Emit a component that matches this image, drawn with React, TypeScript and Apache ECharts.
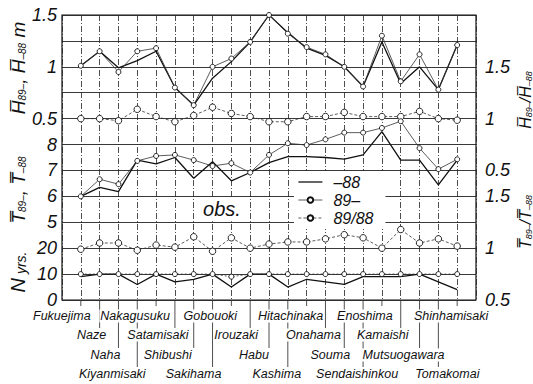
import { useEffect, useRef } from "react";
import * as echarts from "echarts";

// Stations, west/south to north-east
const STATIONS = [
  "Fukuejima", "Naze", "Naha", "Kiyanmisaki", "Nakagusuku", "Satamisaki", "Shibushi",
  "Sakihama", "Gobouoki", "Irouzaki", "Habu", "Kashima", "Hitachinaka", "Onahama",
  "Souma", "Sendaishinkou", "Enoshima", "Kamaishi", "Mutsuogawara", "Tomakomai", "Shinhamisaki",
];

// Mean wave height (m)
const H_88 = [1.01, 1.15, 0.99, 1.06, 1.15, 0.8, 0.63, 0.89, 1.05, 1.24, 1.5, 1.33, 1.18, 1.11, 1.0, 0.81, 1.24, 0.84, 1.0, 0.78, 1.21];
const H_89 = [1.01, 1.15, 0.95, 1.15, 1.18, 0.8, 0.63, 1.0, 1.08, 1.24, 1.5, 1.32, 1.19, 1.12, 1.0, 0.81, 1.3, 0.86, 1.12, 0.78, 1.21];
const H_RATIO = [1.0, 1.0, 0.98, 1.09, 1.02, 0.97, 1.03, 1.11, 1.05, 1.02, 0.97, 0.97, 1.02, 1.02, 1.06, 1.02, 1.02, 1.02, 1.07, 1.0, 0.985];

// Mean wave period (s)
const T_88 = [6.0, 6.35, 6.18, 7.4, 7.25, 7.5, 6.7, 7.34, 6.6, 6.92, 7.3, 7.53, 7.53, 7.5, 7.44, 7.6, 8.5, 7.4, 7.4, 6.44, 7.4];
const T_89 = [6.0, 6.66, 6.47, 7.37, 7.56, 7.6, 7.4, 7.17, 7.28, 6.92, 7.6, 8.05, 7.98, 8.2, 8.46, 8.46, 8.64, 8.9, 7.86, 7.05, 7.43];
const T_RATIO = [0.99, 1.05, 1.05, 0.98, 1.03, 1.01, 1.11, 0.97, 1.1, 1.0, 1.04, 1.06, 1.06, 1.09, 1.13, 1.1, 1.0, 1.18, 1.05, 1.09, 1.02];

// Observation length (years)
const N_88 = [9, 10, 10, 6, 10, 7, 8, 10, 5, 10, 10, 5, 8, 7, 6, 9, 9, 9, 10, 7, 4];
const N_89 = [10, 10, 10, 10, 10, 10, 10, 10, 9, 10, 10, 10, 10, 10, 10, 10, 10, 10, 10, 10, 10];

// Tick labels shown on each stacked scale
const H_TICKS = [0.5, 1, 1.5];
const T_TICKS = [5, 6, 7, 8];
const N_TICKS = [0, 10, 20];
const RATIO_TICKS = [0.5, 1, 1.5];

const SERIES_NAMES = ["\u201388", "89\u2013", "89/88"];

// Station label layout: horizontal nudge and row spacing below the axis
const LABEL_DX = [-19, -8, -13, -25, -21, -17, -26, -19, -21, -14, -15, -11, -16, -12, -14, -6, -17, -18, -16, 9, -6];
const ROW_Y = [316, 335, 355, 374];

const FONT = "'Liberation Sans', Arial, sans-serif";
const INK = "#111";

const pairs = (arr: number[]) => arr.map((v, i) => [i, v]);

function yAxis(min: number, max: number, interval: number, ticks: number[], position: "left" | "right", split: boolean, margin: number) {
  return {
    type: "value",
    position,
    min,
    max,
    interval,
    axisLine: { show: false },
    axisTick: { show: false },
    splitLine: { show: split, lineStyle: { color: "#222", width: 0.9 } },
    axisLabel: {
      margin,
      showMinLabel: true,
      showMaxLabel: true,
      fontSize: 18,
      fontStyle: "italic",
      fontFamily: FONT,
      color: INK,
      formatter: (v: number) => {
        const t = ticks.find((k) => Math.abs(k - v) < 1e-6);
        return t === undefined ? "" : String(t);
      },
    },
  };
}

function solid(name: string, data: number[], yAxisIndex: number) {
  return {
    type: "line",
    name,
    yAxisIndex,
    data: pairs(data),
    symbol: "none",
    lineStyle: { color: INK, width: 1.3 },
    itemStyle: { color: INK },
    z: 3,
  };
}

function marked(name: string, data: number[], yAxisIndex: number, size: number, dash: number[] | "solid", width: number) {
  return {
    type: "line",
    name,
    yAxisIndex,
    data: pairs(data),
    symbol: "circle",
    symbolSize: size,
    lineStyle: { color: "#333", width, type: dash },
    itemStyle: { color: "#fff", borderColor: INK, borderWidth: 0.9 },
    z: 4,
  };
}

const titleRich = (big: number, small: number) => ({
  o: { fontSize: big, fontStyle: "italic", fontFamily: FONT, fill: INK, lineHeight: big + 2, verticalAlign: "bottom" },
  s: { fontSize: small, fontStyle: "italic", fontFamily: FONT, fill: INK, lineHeight: big + 2, verticalAlign: "bottom" },
});

export default function App() {
  const ref = useRef<HTMLDivElement>(null);

  useEffect(() => {
    if (!ref.current) return;
    const chart = echarts.init(ref.current, undefined, { renderer: "svg" });

    const option: any = {
      animation: false,
      backgroundColor: "#fff",
      grid: { left: 62, right: 57, top: 15, bottom: 84, show: true, borderColor: INK, borderWidth: 1.2, backgroundColor: "transparent" },
      xAxis: {
        type: "value",
        min: -1,
        max: 21,
        interval: 1,
        axisLine: { show: false },
        axisTick: { show: false },
        axisLabel: { show: false },
        splitLine: { show: true, lineStyle: { color: "#222", width: 0.8, type: [6, 2, 1, 2] } },
      },
      yAxis: [
        yAxis(-1.25, 1.5, 0.25, H_TICKS, "left", false, 5),
        yAxis(2, 13, 1, T_TICKS, "left", false, 5),
        yAxis(0, 110, 10, N_TICKS, "left", true, 5),
        yAxis(-0.75, 2, 0.25, RATIO_TICKS, "right", false, 9),
        yAxis(0.5, 3.25, 0.25, RATIO_TICKS, "right", false, 9),
      ],
      legend: {
        orient: "vertical",
        left: 294,
        top: 171,
        data: [
          { name: SERIES_NAMES[0], icon: "path://M0,0H24V1.3H0Z", itemStyle: { color: INK } },
          SERIES_NAMES[1],
          SERIES_NAMES[2],
        ],
        itemWidth: 24,
        itemHeight: 7,
        itemGap: 2,
        symbolKeepAspect: true,
        padding: [3, 12, 3, 4],
        backgroundColor: "#fff",
        selectedMode: false,
        lineStyle: { width: 0.8 },
        textStyle: { fontSize: 16, fontStyle: "italic", fontFamily: FONT, color: INK, lineHeight: 15, padding: [0, 0, 0, 6] },
      },
      series: [
        solid(SERIES_NAMES[0], H_88, 0),
        marked(SERIES_NAMES[1], H_89, 0, 5, "solid", 0.8),
        marked(SERIES_NAMES[2], H_RATIO, 3, 6.5, [3, 2], 0.8),
        solid(SERIES_NAMES[0], T_88, 1),
        marked(SERIES_NAMES[1], T_89, 1, 5, "solid", 0.8),
        marked(SERIES_NAMES[2], T_RATIO, 4, 6.5, [3, 2], 0.8),
        solid(SERIES_NAMES[0], N_88, 2),
        marked(SERIES_NAMES[1], N_89, 2, 5, [2, 2], 0.8),
      ],
    };
    chart.setOption(option);

    const px = (i: number) => chart.convertToPixel({ xAxisIndex: 0 } as any, i) as unknown as number;
    const axisY = chart.convertToPixel({ yAxisIndex: 2 } as any, 0) as unknown as number;
    const tTop = chart.convertToPixel({ yAxisIndex: 1 } as any, 6) as unknown as number;
    const tBottom = chart.convertToPixel({ yAxisIndex: 1 } as any, 5) as unknown as number;

    const graphics: any[] = [];
    STATIONS.forEach((name, i) => {
      const row = i % 4;
      const x = px(i);
      graphics.push({
        type: "line",
        z: 1,
        shape: { x1: x, y1: axisY + 1, x2: x, y2: row === 0 ? axisY + 6 : ROW_Y[row] - 7 },
        style: { stroke: "#222", lineWidth: 0.8 },
      });
      graphics.push({
        type: "text",
        z: 2,
        x: x + LABEL_DX[i],
        y: ROW_Y[row],
        style: {
          text: name,
          fontSize: 12.5,
          fontStyle: "italic",
          fontFamily: FONT,
          fill: INK,
          align: "center",
          verticalAlign: "middle",
          textAlign: "center",
          textVerticalAlign: "middle",
          backgroundColor: "#fff",
          padding: [0, 1],
        },
      });
    });

    // "obs." panel tag
    const ox1 = px(6) + 1;
    const ox2 = px(9) - 1;
    graphics.push({
      type: "rect",
      z: 3,
      shape: { x: ox1, y: tTop + 1, width: ox2 - ox1, height: tBottom - tTop - 2 },
      style: { fill: "#fff" },
    });
    graphics.push({
      type: "text",
      z: 4,
      x: (ox1 + ox2) / 2,
      y: (tTop + tBottom) / 2,
      style: {
        text: "obs.",
        fontSize: 20,
        fontStyle: "italic",
        fontFamily: FONT,
        fill: INK,
        align: "center",
        verticalAlign: "middle",
        textAlign: "center",
        textVerticalAlign: "middle",
      },
    });

    // Rotated axis titles
    const title = (x: number, y: number, text: string, big: number, small: number) => ({
      type: "text",
      z: 5,
      x,
      y,
      rotation: Math.PI / 2,
      style: {
        text,
        rich: titleRich(big, small),
        align: "center",
        verticalAlign: "middle",
        textAlign: "center",
        textVerticalAlign: "middle",
      },
    });
    graphics.push(title(17, 68, "{o|H\u0305}{s|89\u2013}{o|, H\u0305}{s|\u201388}{o| m}", 19, 10));
    graphics.push(title(17, 190, "{o|T\u0305}{s|89\u2013}{o|, T\u0305}{s|\u201388}", 19, 10));
    graphics.push(title(17, 272, "{o|N}{s| yrs.}", 20, 14));
    graphics.push(title(524, 100, "{o|H\u0305}{s|89\u2013}{o|/H\u0305}{s|\u201388}", 16, 9));
    graphics.push(title(524, 222, "{o|T\u0305}{s|89\u2013}{o|/T\u0305}{s|\u201388}", 16, 9));

    chart.setOption({ graphic: graphics });

    return () => chart.dispose();
  }, []);

  return (
    <div
      ref={ref}
      style={{ position: "fixed", left: 0, top: 0, width: 533, height: 384, background: "#fff" }}
    />
  );
}
